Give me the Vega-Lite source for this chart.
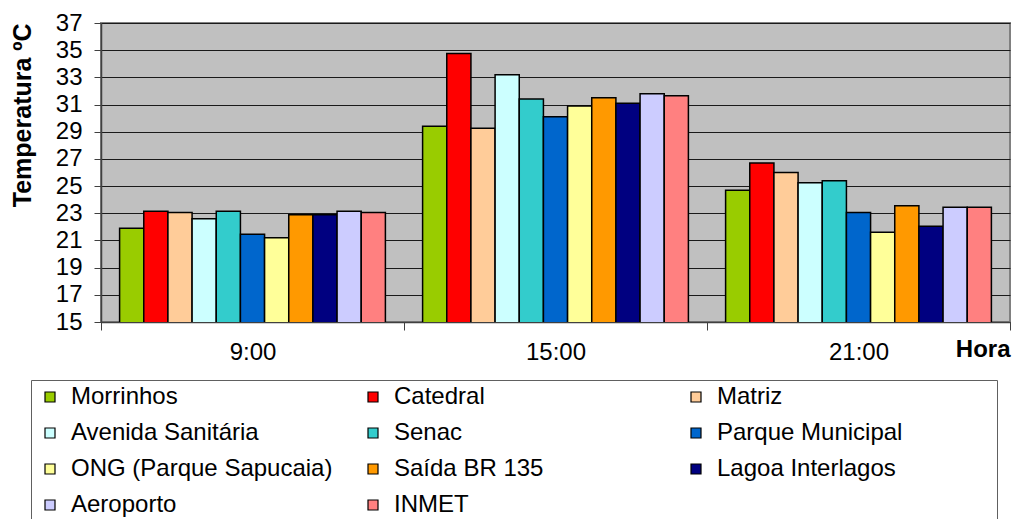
{
  "$schema": "https://vega.github.io/schema/vega-lite/v6.json",
  "width": 909,
  "height": 299,
  "padding": {"left": 10, "top": 11, "right": 2, "bottom": 5},
  "background": "white",
  "config": {
    "view": {"fill": "#C0C0C0", "stroke": "#808080", "strokeWidth": 2},
    "font": "Liberation Sans"
  },
  "data": {
    "values": [
      {"hora": "9:00", "estacao": "Morrinhos", "temp": 21.9},
      {"hora": "9:00", "estacao": "Catedral", "temp": 23.15},
      {"hora": "9:00", "estacao": "Matriz", "temp": 23.05},
      {"hora": "9:00", "estacao": "Avenida Sanitária", "temp": 22.6},
      {"hora": "9:00", "estacao": "Senac", "temp": 23.15},
      {"hora": "9:00", "estacao": "Parque Municipal", "temp": 21.45},
      {"hora": "9:00", "estacao": "ONG (Parque Sapucaia)", "temp": 21.2},
      {"hora": "9:00", "estacao": "Saída BR 135", "temp": 22.9},
      {"hora": "9:00", "estacao": "Lagoa Interlagos", "temp": 22.9},
      {"hora": "9:00", "estacao": "Aeroporto", "temp": 23.15},
      {"hora": "9:00", "estacao": "INMET", "temp": 23.05},
      {"hora": "15:00", "estacao": "Morrinhos", "temp": 29.4},
      {"hora": "15:00", "estacao": "Catedral", "temp": 34.75},
      {"hora": "15:00", "estacao": "Matriz", "temp": 29.25},
      {"hora": "15:00", "estacao": "Avenida Sanitária", "temp": 33.2},
      {"hora": "15:00", "estacao": "Senac", "temp": 31.4},
      {"hora": "15:00", "estacao": "Parque Municipal", "temp": 30.1},
      {"hora": "15:00", "estacao": "ONG (Parque Sapucaia)", "temp": 30.9},
      {"hora": "15:00", "estacao": "Saída BR 135", "temp": 31.5},
      {"hora": "15:00", "estacao": "Lagoa Interlagos", "temp": 31.1},
      {"hora": "15:00", "estacao": "Aeroporto", "temp": 31.8},
      {"hora": "15:00", "estacao": "INMET", "temp": 31.65},
      {"hora": "21:00", "estacao": "Morrinhos", "temp": 24.7},
      {"hora": "21:00", "estacao": "Catedral", "temp": 26.7},
      {"hora": "21:00", "estacao": "Matriz", "temp": 26.0},
      {"hora": "21:00", "estacao": "Avenida Sanitária", "temp": 25.25},
      {"hora": "21:00", "estacao": "Senac", "temp": 25.4},
      {"hora": "21:00", "estacao": "Parque Municipal", "temp": 23.05},
      {"hora": "21:00", "estacao": "ONG (Parque Sapucaia)", "temp": 21.6},
      {"hora": "21:00", "estacao": "Saída BR 135", "temp": 23.55},
      {"hora": "21:00", "estacao": "Lagoa Interlagos", "temp": 22.05},
      {"hora": "21:00", "estacao": "Aeroporto", "temp": 23.45},
      {"hora": "21:00", "estacao": "INMET", "temp": 23.45}
    ]
  },
  "mark": {"type": "bar", "stroke": "black", "strokeWidth": 1.5, "clip": true},
  "encoding": {
    "x": {
      "field": "hora",
      "type": "nominal",
      "sort": ["9:00", "15:00", "21:00"],
      "scale": {"paddingInner": 0, "paddingOuter": 0},
      "axis": {
        "title": "Hora",
        "titleFont": "Liberation Sans",
        "titleFontSize": 24,
        "titleFontWeight": "bold",
        "titleColor": "black",
        "titleAnchor": "end",
        "titleAlign": "right",
        "titlePadding": -27,
        "labelAngle": 0,
        "labelFontSize": 24,
        "labelColor": "black",
        "labelPadding": 10,
        "tickBand": "extent",
        "tickSize": 8,
        "tickColor": "#404040",
        "domainColor": "#404040",
        "domainWidth": 1.5,
        "grid": false
      }
    },
    "xOffset": {
      "field": "estacao",
      "type": "nominal",
      "sort": ["Morrinhos", "Catedral", "Matriz", "Avenida Sanitária", "Senac", "Parque Municipal", "ONG (Parque Sapucaia)", "Saída BR 135", "Lagoa Interlagos", "Aeroporto", "INMET"],
      "scale": {"paddingInner": 0, "paddingOuter": 0.77}
    },
    "y": {
      "field": "temp",
      "type": "quantitative",
      "scale": {"domain": [15, 37], "nice": false, "zero": false},
      "axis": {
        "title": "Temperatura ºC",
        "titleFont": "Liberation Sans",
        "titleFontSize": 25,
        "titleFontWeight": "bold",
        "titleColor": "black",
        "titleAnchor": "end",
        "titlePadding": 20,
        "values": [15, 17, 19, 21, 23, 25, 27, 29, 31, 33, 35, 37],
        "labelFontSize": 24,
        "labelColor": "black",
        "labelPadding": 12,
        "tickSize": 7,
        "tickColor": "#404040",
        "domainColor": "#404040",
        "domainWidth": 1.5,
        "grid": true,
        "gridColor": "#1a1a1a",
        "gridWidth": 1.2
      }
    },
    "color": {
      "field": "estacao",
      "type": "nominal",
      "sort": ["Morrinhos", "Catedral", "Matriz", "Avenida Sanitária", "Senac", "Parque Municipal", "ONG (Parque Sapucaia)", "Saída BR 135", "Lagoa Interlagos", "Aeroporto", "INMET"],
      "scale": {
        "domain": ["Morrinhos", "Catedral", "Matriz", "Avenida Sanitária", "Senac", "Parque Municipal", "ONG (Parque Sapucaia)", "Saída BR 135", "Lagoa Interlagos", "Aeroporto", "INMET"],
        "range": ["#99CC00", "#FF0000", "#FFCC99", "#CCFFFF", "#33CCCC", "#0066CC", "#FFFF99", "#FF9900", "#000080", "#CCCCFF", "#FF8080"]
      },
      "legend": {
        "title": " ",
        "titleOrient": "right",
        "titleFontSize": 20,
        "titleOpacity": 0,
        "titlePadding": 90,
        "orient": "none",
        "legendX": -70,
        "legendY": 357,
        "direction": "horizontal",
        "columns": 3,
        "gridAlign": "all",
        "columnPadding": 26,
        "rowPadding": 12,
        "padding": 5,
        "symbolOffset": 2,
        "symbolType": "square",
        "symbolSize": 100,
        "symbolStrokeColor": "black",
        "symbolStrokeWidth": 1.2,
        "labelFont": "Liberation Sans",
        "labelFontSize": 24,
        "labelColor": "black",
        "labelOffset": 9,
        "labelLimit": 400,
        "strokeColor": "#606060",
        "fillColor": "white"
      }
    }
  }
}
